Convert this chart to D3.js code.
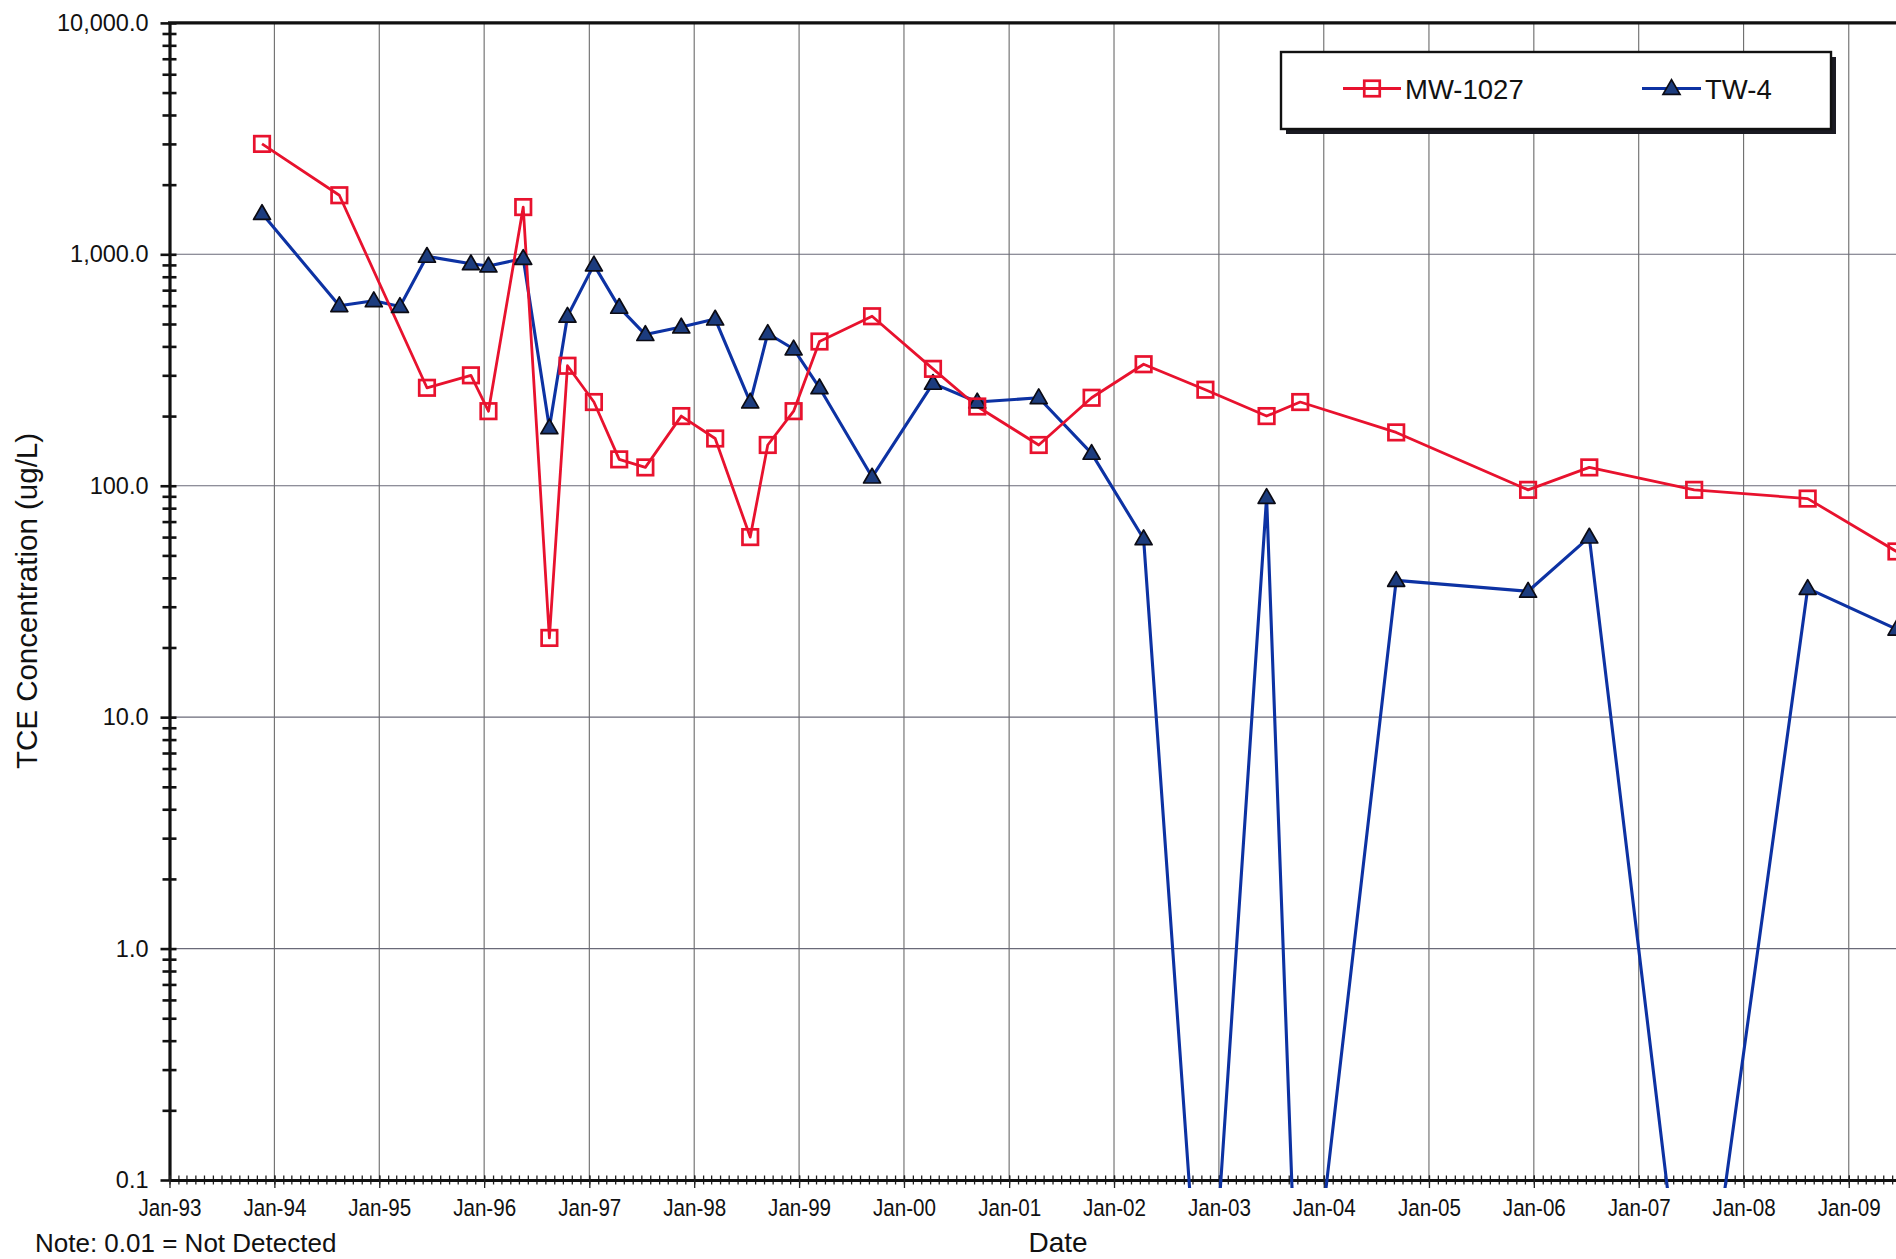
<!DOCTYPE html>
<html>
<head>
<meta charset="utf-8">
<script src="https://cdn.jsdelivr.net/npm/d3@7/dist/d3.min.js"></script>
<style>
  html, body { margin: 0; padding: 0; background: #fff; }
  svg { display: block; }
  text { font-family: "Liberation Sans", Arial, Helvetica, sans-serif; fill: #111; }
</style>
</head>
<body>
<svg id="chart" width="1896" height="1259"></svg>
<script>
// TCE concentration results, two wells (0.01 = not detected)
const seriesNames = ["MW-1027", "TW-4"];

const mwDates = [
  "1993-11-19", "1994-08-15", "1995-06-16", "1995-11-16", "1996-01-16", "1996-05-16",
  "1996-08-15", "1996-10-17", "1997-01-17", "1997-04-15", "1997-07-15", "1997-11-17",
  "1998-03-15", "1998-07-15", "1998-09-14", "1998-12-13", "1999-03-13", "1999-09-12",
  "2000-04-11", "2000-09-12", "2001-04-14", "2001-10-15", "2002-04-14", "2002-11-15",
  "2003-06-16", "2003-10-11", "2004-09-09", "2005-12-12", "2006-07-13", "2007-07-13",
  "2008-08-11", "2009-06-16"
];
const mwValues = [
  3000, 1800, 265, 300, 210, 1600,
  22, 330, 230, 130, 120, 200,
  160, 60, 150, 210, 420, 540,
  320, 220, 150, 240, 335, 260,
  200, 230, 170, 96, 120, 96,
  88, 52
];

const twDates = [
  "1993-11-19", "1994-08-15", "1994-12-13", "1995-03-14", "1995-06-16", "1995-11-16",
  "1996-01-16", "1996-05-16", "1996-08-15", "1996-10-17", "1997-01-17", "1997-04-15",
  "1997-07-15", "1997-11-17", "1998-03-15", "1998-07-15", "1998-09-14", "1998-12-13",
  "1999-03-13", "1999-09-12", "2000-04-11", "2000-09-12", "2001-04-14", "2001-10-15",
  "2002-04-14", "2002-11-15", "2003-06-16", "2003-10-11", "2004-09-09", "2005-12-12",
  "2006-07-13", "2007-07-13", "2008-08-11", "2009-06-16"
];
const twValues = [
  1500, 600, 630, 595, 980, 910,
  890, 960, 178, 540, 900, 590,
  450, 485, 525, 230, 455, 390,
  265, 109, 277, 230, 240, 138,
  59, 0.01, 89, 0.01, 39, 35,
  60, 0.01, 36, 24
];

const yTickValues = [0.1, 1, 10, 100, 1000, 10000];
const xDomain = ["1993-01-01", "2010-01-01"];
const xLabelRange = ["1993-01-01", "2009-01-02"];
const yDomain = [0.1, 10000];

const axisTitleY = "TCE Concentration (ug/L)";
const axisTitleX = "Date";
const noteText = "Note: 0.01 = Not Detected";

// ---- layout ----
const W = 1896, H = 1259;
const plotLeft = 169.5, plotTop = 22.9, plotBottom = 1180;
const yearPx = 104.95;
const plotRight = plotLeft + 17 * yearPx;

const parse = d3.utcParse("%Y-%m-%d");
const x = d3.scaleUtc().domain(xDomain.map(parse)).range([plotLeft, plotRight]);
const y = d3.scaleLog().domain(yDomain).range([plotBottom, plotTop]);

const mwData = mwDates.map((d, i) => ({ date: parse(d), value: mwValues[i] }));
const twData = twDates.map((d, i) => ({ date: parse(d), value: twValues[i] }));

const RED = "#e8122e";
const BLUE = "#0d32a3";
const TRI_FILL = "#1c3c7e";

const svg = d3.select("#chart");

svg.append("defs").append("clipPath").attr("id", "plotClip")
  .append("rect")
  .attr("x", plotLeft).attr("y", plotTop)
  .attr("width", plotRight - plotLeft).attr("height", plotBottom - plotTop + 8);

// ---- gridlines ----
const years = d3.utcYear.range(parse("1994-01-01"), parse("2010-01-02"));
const grid = svg.append("g").attr("class", "grid");
grid.selectAll("line.v").data(years).join("line")
  .attr("x1", d => x(d)).attr("x2", d => x(d))
  .attr("y1", plotTop).attr("y2", plotBottom)
  .attr("stroke", "#6a6a6a").attr("stroke-width", 1.1);
grid.selectAll("line.h").data(yTickValues.slice(1, -1)).join("line")
  .attr("x1", plotLeft).attr("x2", W)
  .attr("y1", d => y(d)).attr("y2", d => y(d))
  .attr("stroke", "#6a6a78").attr("stroke-width", 1.1);

// ---- y axis ----
const minorY = [];
for (let e = -1; e < 4; e++) for (let m = 2; m <= 9; m++) minorY.push(m * Math.pow(10, e));

const yMinor = d3.axisLeft(y).tickValues(minorY).tickFormat("").tickSizeInner(7).tickSizeOuter(0);
const gyMinor = svg.append("g").attr("transform", `translate(${plotLeft},0)`).call(yMinor);
gyMinor.select(".domain").remove();
gyMinor.selectAll(".tick line").attr("x2", -7).attr("x1", 7).attr("stroke", "#111").attr("stroke-width", 2.6);

const yAxis = d3.axisLeft(y).tickValues(yTickValues).tickFormat(d3.format(",.1f"))
  .tickSizeInner(9).tickSizeOuter(0).tickPadding(10);
const gy = svg.append("g").attr("transform", `translate(${plotLeft},0)`).call(yAxis);
gy.select(".domain").attr("stroke", "#111").attr("stroke-width", 3.2);
gy.selectAll(".tick line").attr("x1", 7).attr("x2", -9).attr("stroke", "#111").attr("stroke-width", 2.6);
gy.selectAll(".tick text").attr("font-size", 23.5).attr("dx", "-2");

// ---- x axis ----
const months = d3.utcMonth.range(parse("1993-01-01"), parse("2010-01-02"));
const xMinor = d3.axisBottom(x).tickValues(months).tickFormat("").tickSizeOuter(0);
const gxMinor = svg.append("g").attr("transform", `translate(0,${plotBottom})`).call(xMinor);
gxMinor.select(".domain").remove();
gxMinor.selectAll(".tick line").attr("y1", -4.5).attr("y2", 4.5).attr("stroke", "#222").attr("stroke-width", 1.3);

const labelYears = d3.utcYear.range(...xLabelRange.map(parse));
const xAxis = d3.axisBottom(x).tickValues(labelYears).tickFormat(d3.utcFormat("%b-%y"))
  .tickSizeInner(8).tickSizeOuter(0).tickPadding(11);
const gx = svg.append("g").attr("transform", `translate(0,${plotBottom})`).call(xAxis);
gx.select(".domain").attr("stroke", "#111").attr("stroke-width", 3.2);
gx.selectAll(".tick line").attr("y1", -4.5).attr("stroke", "#222").attr("stroke-width", 1.3);
gx.selectAll(".tick text").attr("font-size", 24.5)
  .attr("textLength", 63).attr("lengthAdjust", "spacingAndGlyphs");

// top frame
svg.append("line")
  .attr("x1", plotLeft - 1.5).attr("x2", W)
  .attr("y1", plotTop).attr("y2", plotTop)
  .attr("stroke", "#111").attr("stroke-width", 3.2);

// ---- series ----
const line = d3.line().x(d => x(d.date)).y(d => y(d.value));
const plot = svg.append("g").attr("clip-path", "url(#plotClip)");

plot.append("path").datum(twData).attr("d", line)
  .attr("fill", "none").attr("stroke", BLUE).attr("stroke-width", 3.1).attr("stroke-linejoin", "round");
plot.append("path").datum(mwData).attr("d", line)
  .attr("fill", "none").attr("stroke", RED).attr("stroke-width", 2.8).attr("stroke-linejoin", "round");

const tri = d3.symbol().type(d3.symbolTriangle).size(125);
const SQ = 15.5;

const markers = svg.append("g").attr("clip-path", "url(#plotClip)");
markers.selectAll("path.tw").data(twData.filter(d => d.value >= yDomain[0])).join("path")
  .attr("class", "tw")
  .attr("d", tri)
  .attr("transform", d => `translate(${x(d.date)},${y(d.value) + 1})`)
  .attr("fill", TRI_FILL).attr("stroke", "#0b0b14").attr("stroke-width", 1.7).attr("stroke-linejoin", "round");
markers.selectAll("rect.mw").data(mwData).join("rect")
  .attr("class", "mw")
  .attr("x", d => x(d.date) - SQ / 2).attr("y", d => y(d.value) - SQ / 2)
  .attr("width", SQ).attr("height", SQ)
  .attr("fill", "none").attr("stroke", RED).attr("stroke-width", 2.7);

// ---- axis titles and note ----
svg.append("text")
  .attr("transform", `translate(37,601) rotate(-90)`)
  .attr("text-anchor", "middle").attr("font-size", 29.5)
  .text(axisTitleY);

svg.append("text")
  .attr("x", 1058).attr("y", 1252)
  .attr("text-anchor", "middle").attr("font-size", 28)
  .text(axisTitleX);

svg.append("text")
  .attr("x", 35).attr("y", 1252)
  .attr("font-size", 26)
  .text(noteText);

// ---- legend ----
const lg = { x: 1281, y: 52, w: 550, h: 77 };
const legend = svg.append("g");
legend.append("rect")
  .attr("x", lg.x + 5).attr("y", lg.y + 5).attr("width", lg.w).attr("height", lg.h)
  .attr("fill", "#1a1a22");
legend.append("rect")
  .attr("x", lg.x).attr("y", lg.y).attr("width", lg.w).attr("height", lg.h)
  .attr("fill", "#fff").attr("stroke", "#111").attr("stroke-width", 2.4);

const ly = lg.y + 36.5;
const legendItems = [
  { name: seriesNames[0], x0: 1343, x1: 1401, tx: 1405, color: RED, kind: "square" },
  { name: seriesNames[1], x0: 1642, x1: 1701, tx: 1705, color: BLUE, kind: "triangle" }
];
legendItems.forEach(it => {
  legend.append("line").attr("x1", it.x0).attr("x2", it.x1).attr("y1", ly).attr("y2", ly)
    .attr("stroke", it.color).attr("stroke-width", 2.9);
  const cx = (it.x0 + it.x1) / 2;
  if (it.kind === "square") {
    legend.append("rect").attr("x", cx - SQ / 2).attr("y", ly - SQ / 2)
      .attr("width", SQ).attr("height", SQ)
      .attr("fill", "none").attr("stroke", RED).attr("stroke-width", 2.7);
  } else {
    legend.append("path").attr("d", tri)
      .attr("transform", `translate(${cx},${ly + 1})`)
      .attr("fill", TRI_FILL).attr("stroke", "#0b0b14").attr("stroke-width", 1.7);
  }
  legend.append("text").attr("x", it.tx).attr("y", ly + 10)
    .attr("font-size", 27.5).text(it.name);
});
</script>
</body>
</html>
